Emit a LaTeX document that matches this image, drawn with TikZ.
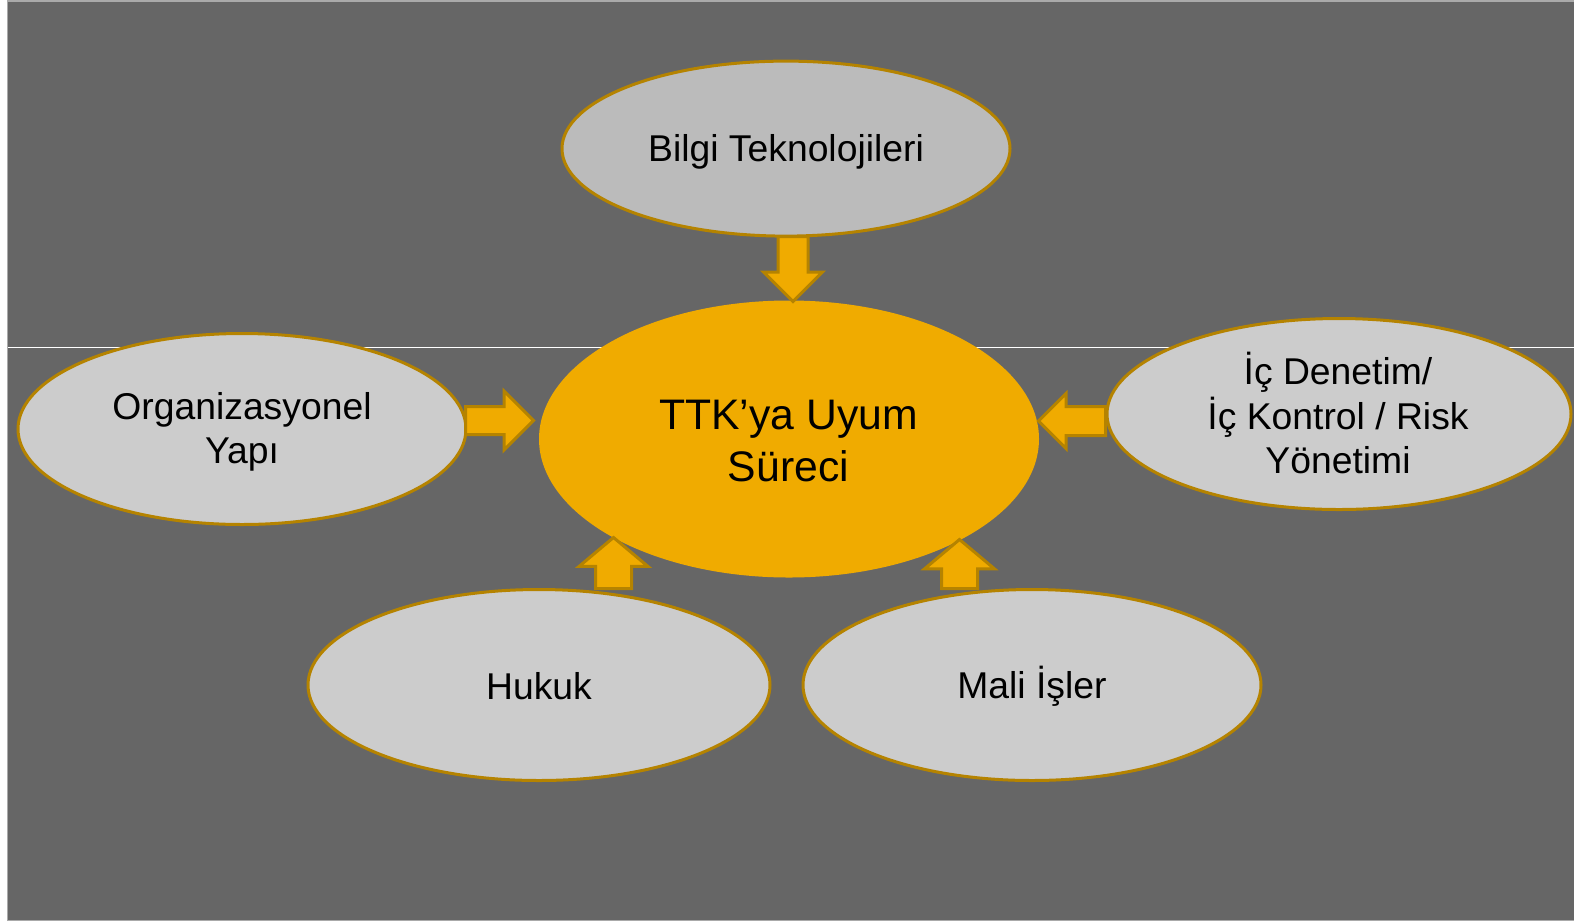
\documentclass[tikz,border=0pt]{standalone}
\usepackage{fontspec}
\setmainfont{Liberation Sans}
\usetikzlibrary{shapes.geometric,shapes.arrows}
\definecolor{bg}{HTML}{666666}
\definecolor{gold}{HTML}{F0AB00}
\definecolor{goldline}{HTML}{B58300}
\definecolor{lightfill}{HTML}{CCCCCC}
\definecolor{topfill}{HTML}{BBBBBB}
\definecolor{frameline}{HTML}{AAAAAA}
\tikzset{
  bubble/.style={ellipse, draw=goldline, line width=3pt, fill=lightfill, inner sep=0pt},
  bubbletext/.style={align=center, inner sep=0pt, font=\fontsize{37.3}{44.5}\selectfont, text=black},
  core/.style={ellipse, fill=gold, inner sep=0pt},
  coretext/.style={align=center, inner sep=0pt, font=\fontsize{42.7}{52}\selectfont, text=black},
  blockarrow/.style={single arrow, draw=goldline, fill=gold, line width=3pt,
    inner xsep=0pt, text height=0pt, text depth=0pt, text width=0pt,
    single arrow head indent=0pt, anchor=tail},
}
\begin{document}
\begin{tikzpicture}[x=1pt,y=-1pt]
\useasboundingbox (0,0) rectangle (1574,922);
\fill[white] (0,0) rectangle (1574,922);
\filldraw[fill=bg, draw=frameline, line width=1.5pt] (7.5,0.75) rectangle (1576,920.5);
\draw[white, line width=1pt] (8,347.5) -- (1574,347.5);

\node[bubble, fill=topfill, minimum width=448pt, minimum height=175pt] (bt) at (786,148.6) {};
\node[bubble, minimum width=448pt, minimum height=191pt] (org) at (242,429) {};
\node[bubble, minimum width=464pt, minimum height=191pt] (ic) at (1339,414) {};
\node[bubble, minimum width=462pt, minimum height=191pt] (huk) at (539,685) {};
\node[bubble, minimum width=458pt, minimum height=191pt] (mali) at (1032,685) {};
\node[core, minimum width=500pt, minimum height=277pt] (ttk) at (789,439) {};

\node[bubbletext] (btt) at ([yshift=-3.4pt]bt.center) {Bilgi Teknolojileri};
\node[bubbletext] (orgt) at ([yshift=-3pt]org.center) {Organizasyonel\\Yapı};
\node[bubbletext] (ict) at ([xshift=-1pt,yshift=1pt]ic.center) {İç Denetim/\\İç Kontrol / Risk\\Yönetimi};
\node[bubbletext] (hukt) at ([yshift=-1pt]huk.center) {Hukuk};
\node[bubbletext] (malit) at ([yshift=-1pt]mali.center) {Mali İşler};
\node[coretext] (ttkt) at ([xshift=-0.5pt,yshift=-2pt]ttk.center) {TTK’ya Uyum\\Süreci};

\node[blockarrow, rotate=-90, minimum height=65pt, inner ysep=13.5pt,
  single arrow head extend=14.5pt] (a1) at (793,235) {};
\node[blockarrow, minimum height=68pt, inner ysep=12.5pt,
  single arrow head extend=15.5pt] (a2) at (464,420.5) {};
\node[blockarrow, rotate=180, minimum height=67pt, inner ysep=13pt,
  single arrow head extend=13pt] (a3) at (1107,421) {};
\node[blockarrow, rotate=90, minimum height=51pt, inner ysep=16.5pt,
  single arrow head extend=16.5pt, single arrow tip angle=100] (a4) at (613.5,590) {};
\node[blockarrow, rotate=90, minimum height=49pt, inner ysep=16.5pt,
  single arrow head extend=17pt, single arrow tip angle=100] (a5) at (959.5,590) {};
\end{tikzpicture}
\end{document}
